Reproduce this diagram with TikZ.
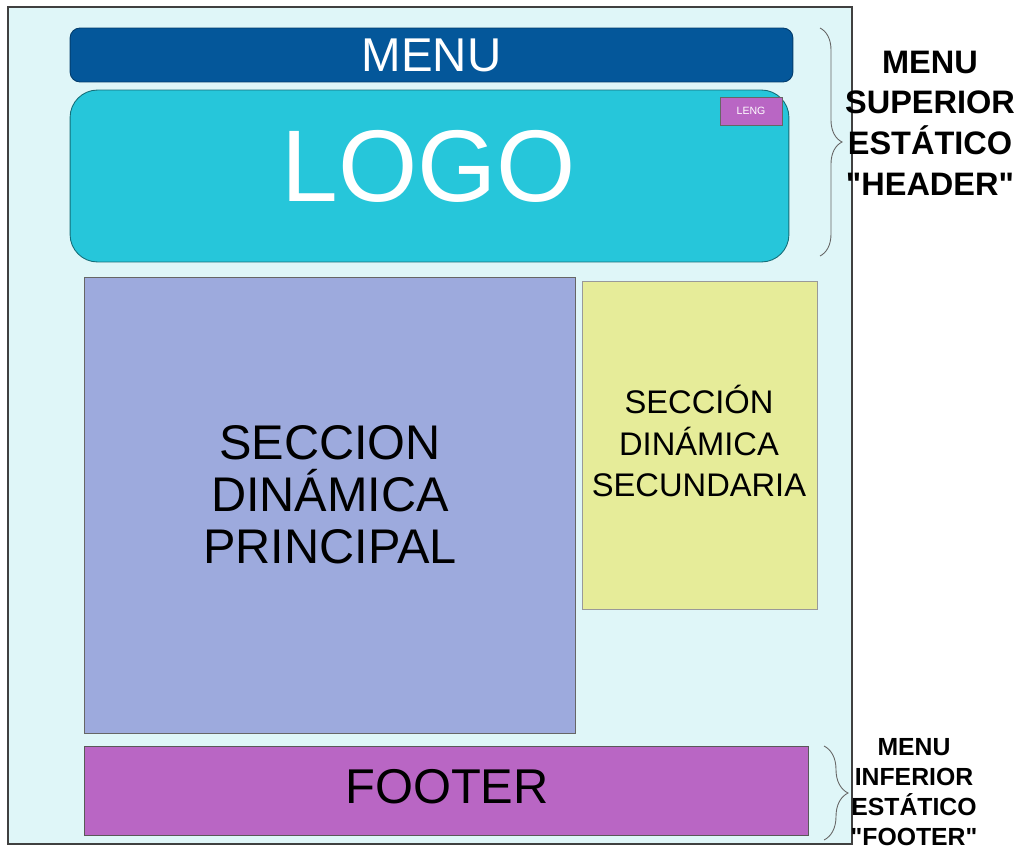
\documentclass[tikz,border=0pt]{standalone}
\usepackage{fontspec}
\setmainfont{Liberation Sans}
\usetikzlibrary{positioning, calc}
\usetikzlibrary{decorations.pathreplacing}
\usepackage[dvipsnames]{xcolor}

\definecolor{pagebg}{HTML}{DFF6F8}
\definecolor{menublue}{HTML}{04579A}
\definecolor{logocyan}{HTML}{26C6DA}
\definecolor{mainblue}{HTML}{9DAADD}
\definecolor{secyellow}{HTML}{E6EC99}
\definecolor{footpurple}{HTML}{B966C4}

\tikzset{
  block/.style={draw=black!65, line width=0.5pt, inner sep=0pt, align=center},
  sidebrace/.style={decorate, decoration={brace, amplitude=#1}, draw=black!60, line width=0.5pt},
  sidetext/.style={align=center, font=\bfseries}
}

\begin{document}
\begin{tikzpicture}[x=0.02cm, y=-0.02cm]

  \useasboundingbox (0,0) rectangle (1021,849);

  % --- Pagina ---
  \draw[fill=pagebg, draw=black!75, line width=0.7pt] (8,7) rectangle (852,844);

  % --- Cabecera ---
  \node[block, fill=menublue, draw=menublue!70!black, rounded corners=0.2cm,
        minimum width=14.46cm, minimum height=1.08cm, text=white,
        font=\fontsize{27}{30}\selectfont] (menu) at (431.5,55) {MENU};
  \node[block, fill=logocyan, draw=logocyan!55!black, rounded corners=0.55cm,
        minimum width=14.38cm, minimum height=3.44cm] (logo) at (429.5,176) {};
  \node[text=white, font=\fontsize{58}{60}\selectfont] (logotxt) at (429,166) {LOGO};
  \node[block, fill=footpurple, draw=black!60, minimum width=1.24cm, minimum height=0.56cm,
        text=white, font=\fontsize{6}{7}\selectfont] (leng) at (751,111) {LENG};

  % --- Secciones dinamicas ---
  \node[block, fill=mainblue, draw=black!60, minimum width=9.82cm, minimum height=9.12cm] (main) at (329.5,505) {};
  \node[align=center, font=\fontsize{27.7}{29.5}\selectfont] (maintxt) at (330,495)
    {SECCION\\DINÁMICA\\PRINCIPAL};
  \node[block, fill=secyellow, draw=black!40, minimum width=4.7cm, minimum height=6.56cm] (sec) at (699.5,445) {};
  \node[align=center, font=\fontsize{18.6}{23.5}\selectfont] (sectxt) at (699,441)
    {SECCIÓN\\DINÁMICA\\SECUNDARIA};

  % --- Pie ---
  \node[block, fill=footpurple, draw=black!65, minimum width=14.5cm, minimum height=1.78cm,
        font=\fontsize{27.8}{30}\selectfont] (footer) at (446.5,790.5) {};
  \node[font=\fontsize{27.8}{30}\selectfont] (foottxt) at (447,787) {FOOTER};

  % --- Llaves y etiquetas ---
  \coordinate (hdtop) at (820,28);
  \coordinate (hdbot) at (820,256);
  \draw[sidebrace=0.44cm] (hdtop) -- (hdbot);
  \node[sidetext, font=\bfseries\fontsize{18.5}{23.2}\selectfont] (hdlabel) at (930,123)
    {MENU\\SUPERIOR\\ESTÁTICO\\\textquotedbl HEADER\textquotedbl};

  \coordinate (fttop) at (824,746);
  \coordinate (ftbot) at (824,840);
  \draw[sidebrace=0.48cm] (fttop) -- (ftbot);
  \node[sidetext, font=\bfseries\fontsize{14.1}{17}\selectfont] (ftlabel) at (914,792)
    {MENU\\INFERIOR\\ESTÁTICO\\\textquotedbl FOOTER\textquotedbl};

\end{tikzpicture}
\end{document}
